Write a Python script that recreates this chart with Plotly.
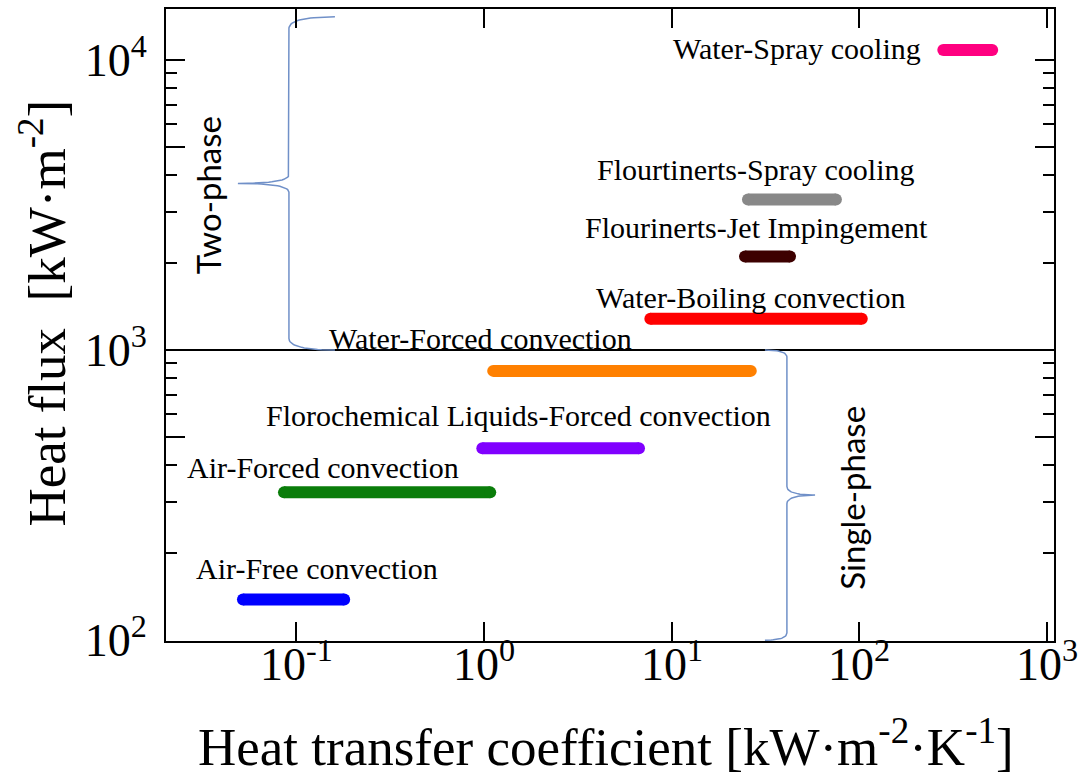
import numpy as np
import plotly.graph_objects as go

# ---------------- data ----------------
categories = [
    "Air-Free convection",
    "Air-Forced convection",
    "Florochemical Liquids-Forced convection",
    "Water-Forced convection",
    "Water-Boiling convection",
    "Flourinerts-Jet Impingement",
    "Flourtinerts-Spray cooling",
    "Water-Spray cooling",
]
h_min = [0.052, 0.086, 0.98, 1.12, 7.7, 24.6, 25.5, 280]      # kW m-2 K-1
h_max = [0.18, 1.08, 6.7, 26.4, 103, 42.7, 75, 510]
q_flux = [138, 323, 458, 847, 1280, 2100, 3300, 10800]          # kW m-2
colors = ["#0000ff", "#0a7d0a", "#8000ff", "#ff8000", "#ff0000", "#3d0000", "#888888", "#ff0080"]

# label anchors (log10 units, layout only)
label_lx = [-0.887, -0.860, 0.184, -0.016, 1.422, 1.452, 1.446, 1.670]
label_ly = [2.246, 2.594, 2.773, 3.038, 3.182, 3.423, 3.622, 4.038]

x_tickvals = [0.1, 1, 10, 100, 1000]
x_ticktext = ["10<sup>-1</sup>", "10<sup>0</sup>", "10<sup>1</sup>", "10<sup>2</sup>", "10<sup>3</sup>"]
y_tickvals = [100, 500, 1000, 5000, 10000]
y_ticktext = ["10<sup>2</sup>", "", "10<sup>3</sup>", "", "10<sup>4</sup>"]
y_minor = [200, 300, 400, 600, 700, 800, 900, 2000, 3000, 4000, 6000, 7000, 8000, 9000]

XR = [-1.694, 3.037]
YR = [1.997, 4.175]
SERIF = "Liberation Serif"
SANS = "Lato"
BRACE_COL = "#7090c8"

fig = go.Figure()

# phase separator at 1000 kW/m2
fig.add_trace(go.Scatter(x=[10 ** XR[0], 10 ** XR[1]], y=[1000, 1000], mode="lines",
                         line=dict(color="black", width=2), showlegend=False, hoverinfo="skip"))


def brace(xs, y0, y1, tipdx, curldx, r_end, r_tip):
    """curly brace in log space: spine at xs, from y0 to y1, tip at the middle."""
    def qbez(p0, c, p1, n=20):
        t = np.linspace(0, 1, n)[:, None]
        return (1 - t) ** 2 * np.array(p0) + 2 * (1 - t) * t * np.array(c) + t ** 2 * np.array(p1)
    ym = 0.5 * (y0 + y1)
    segs = [
        qbez((xs + curldx, y1), (xs, y1), (xs, y1 - r_end)),
        np.array([[xs, y1 - r_end], [xs, ym + r_tip]]),
        qbez((xs, ym + r_tip), (xs, ym), (xs + tipdx, ym)),
        qbez((xs + tipdx, ym), (xs, ym), (xs, ym - r_tip)),
        np.array([[xs, ym - r_tip], [xs, y0 + r_end]]),
        qbez((xs, y0 + r_end), (xs, y0), (xs + curldx, y0)),
    ]
    pts = np.vstack(segs)
    return 10 ** pts[:, 0], 10 ** pts[:, 1]


bx, by = brace(-1.039, 3.0, 4.148, -0.272, 0.245, 0.04, 0.03)
fig.add_trace(go.Scatter(x=bx, y=by, mode="lines", line=dict(color=BRACE_COL, width=1.5),
                         showlegend=False, hoverinfo="skip"))
bx, by = brace(1.614, 2.0, 3.0, 0.15, -0.117, 0.025, 0.03)
fig.add_trace(go.Scatter(x=bx, y=by, mode="lines", line=dict(color=BRACE_COL, width=1.5),
                         showlegend=False, hoverinfo="skip"))

# ranges
for name, a, b, q, c in zip(categories, h_min, h_max, q_flux, colors):
    fig.add_trace(go.Scatter(x=[a, b], y=[q, q], mode="lines+markers", name=name,
                             line=dict(color=c, width=12),
                             marker=dict(color=c, size=12, line=dict(width=0)),
                             showlegend=False))

annotations = []
for name, lx, ly in zip(categories, label_lx, label_ly):
    annotations.append(dict(x=lx, y=ly, xref="x", yref="y", text=name, showarrow=False,
                            xanchor="center", yanchor="middle",
                            font=dict(family=SERIF, size=30, color="black")))

annotations.append(dict(x=-1.470, y=3.533, xref="x", yref="y", text="Two-phase", textangle=-90,
                        showarrow=False, font=dict(family=SANS, size=33, color="black")))
annotations.append(dict(x=1.961, y=2.491, xref="x", yref="y", text="Single-phase", textangle=-90,
                        showarrow=False, font=dict(family=SANS, size=33, color="black")))

# x tick labels (placed as annotations for precise vertical placement)
for v, t in zip(x_tickvals, x_ticktext):
    annotations.append(dict(x=np.log10(v), y=0, xref="x", yref="paper", text=t,
                            showarrow=False, xanchor="center", yanchor="top", yshift=11,
                            font=dict(family=SERIF, size=46, color="black")))

# axis titles
annotations.append(dict(x=0.4955, y=-0.161, xref="paper", yref="paper",
                        text="Heat transfer coefficient [kW·m<sup>-2</sup>·K<sup>-1</sup>]",
                        showarrow=False, xanchor="center", yanchor="middle",
                        font=dict(family=SERIF, size=53, color="black")))
annotations.append(dict(x=-0.139, y=0.519, xref="paper", yref="paper",
                        text="Heat flux  [kW·m<sup>-2</sup>]", textangle=-90,
                        showarrow=False, xanchor="center", yanchor="middle",
                        font=dict(family=SERIF, size=53, color="black")))

axis_common = dict(showline=True, linecolor="black", linewidth=2, mirror="ticks",
                   ticks="inside", tickwidth=2, ticklen=19, tickcolor="black",
                   showgrid=False, zeroline=False,
                   tickfont=dict(family=SERIF, size=46, color="black"))

fig.update_layout(
    width=1092, height=774,
    margin=dict(l=166, r=38, t=7, b=133),
    paper_bgcolor="white", plot_bgcolor="white",
    xaxis=dict(type="log", range=XR, tickmode="array", tickvals=x_tickvals, ticktext=x_ticktext,
               showticklabels=False, **axis_common),
    yaxis=dict(type="log", range=YR, tickmode="array", tickvals=y_tickvals, ticktext=y_ticktext,
               ticklabelstandoff=8,
               minor=dict(tickmode="array", tickvals=y_minor, ticks="inside", ticklen=11,
                          tickwidth=2, tickcolor="black", showgrid=False),
               **axis_common),
    annotations=annotations,
)

fig.write_html("out.html")
